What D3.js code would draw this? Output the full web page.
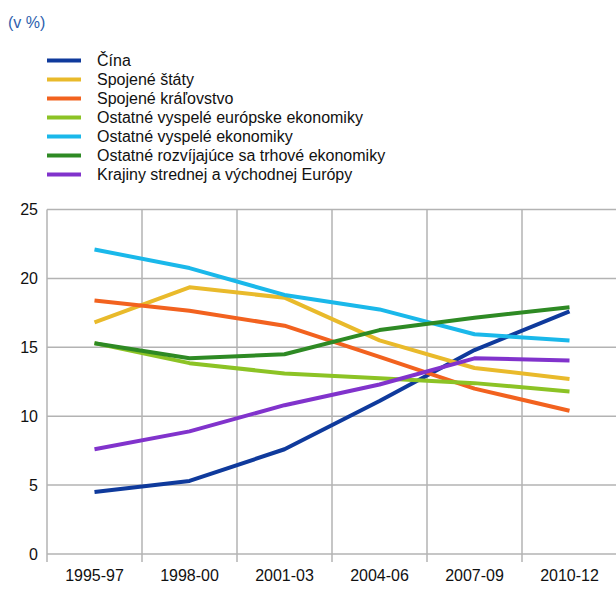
<!DOCTYPE html>
<html><head><meta charset="utf-8">
<script src="https://cdn.jsdelivr.net/npm/d3@7"></script>
<style>body{margin:0;background:#fff;}svg{display:block;font-family:"Liberation Sans",Arial,sans-serif;}</style>
</head><body>
<svg id="c" width="616" height="592"></svg>
<script>
const categories = ["1995-97","1998-00","2001-03","2004-06","2007-09","2010-12"];
const seriesNames = ["Čína","Spojené štáty","Spojené kráľovstvo","Ostatné vyspelé európske ekonomiky","Ostatné vyspelé ekonomiky","Ostatné rozvíjajúce sa trhové ekonomiky","Krajiny strednej a východnej Európy"];
const seriesColors = ["#0f3a9c","#e9ba2b","#f2621f","#8cc325","#1ab8ea","#2e8a24","#8133cc"];
const cina = [4.5, 5.3, 7.6, 11.1, 14.8, 17.6];
const usa = [16.8, 19.35, 18.6, 15.5, 13.5, 12.7];
const uk = [18.4, 17.65, 16.57, 14.3, 12.0, 10.4];
const europeAdv = [15.3, 13.85, 13.1, 12.75, 12.4, 11.8];
const otherAdv = [22.1, 20.75, 18.8, 17.75, 15.95, 15.5];
const emerging = [15.3, 14.2, 14.5, 16.25, 17.15, 17.9];
const cee = [7.6, 8.9, 10.8, 12.3, 14.2, 14.05];
const yTicks = [0, 5, 10, 15, 20, 25];
const unitLabel = "(v %)";

const series = [cina, usa, uk, europeAdv, otherAdv, emerging, cee];
const FONT = "Liberation Sans, Arial, sans-serif";
const svg = d3.select("#c");
const x = d3.scaleBand().domain(categories).range([47, 617]);
const y = d3.scaleLinear().domain([0, 25]).range([554, 209.5]);

svg.append("text").attr("x", 8).attr("y", 28).attr("fill", "#2e5fae").attr("font-size", 16).attr("font-family", FONT).text(unitLabel);

// gridlines
const grid = svg.append("g");
grid.selectAll("line.h").data(yTicks).join("line")
  .attr("x1", 47).attr("x2", 616).attr("y1", d => y(d)).attr("y2", d => y(d))
  .attr("stroke", "#b3b3b3").attr("stroke-width", 1.5);
const vx = categories.map(c => x(c)).concat([x.range()[1]]);
grid.selectAll("line.v").data(vx).join("line")
  .attr("x1", d => d).attr("x2", d => d).attr("y1", y(25)).attr("y2", y(0) + 8)
  .attr("stroke", "#b3b3b3").attr("stroke-width", 1.5);

// axes labels
const yAxis = d3.axisLeft(y).tickValues(yTicks).tickSize(0).tickPadding(9);
const ya = svg.append("g").attr("transform", "translate(47,0)").call(yAxis);
ya.select(".domain").remove();
ya.selectAll("text").attr("font-size", 16).attr("fill", "#111").attr("font-family", FONT);

const xAxis = d3.axisBottom(x).tickSize(0).tickPadding(16);
const xa = svg.append("g").attr("transform", `translate(0,${y(0)})`).call(xAxis);
xa.select(".domain").remove();
xa.selectAll("text").attr("font-size", 16).attr("fill", "#111").attr("font-family", FONT);

// lines
const line = d3.line().x((d, i) => x(categories[i]) + x.bandwidth() / 2).y(d => y(d));
svg.append("g").selectAll("path").data(series).join("path")
  .attr("d", line).attr("fill", "none")
  .attr("stroke", (d, i) => seriesColors[i]).attr("stroke-width", 4)
  .attr("stroke-linejoin", "round");

// legend
const lg = svg.append("g");
const items = lg.selectAll("g").data(seriesNames).join("g")
  .attr("transform", (d, i) => `translate(47,${60.5 + i * 19})`);
items.append("line").attr("x1", 0).attr("x2", 34).attr("stroke", (d, i) => seriesColors[i]).attr("stroke-width", 4);
items.append("text").attr("x", 50).attr("y", 5.5).attr("font-size", 16).attr("fill", "#111").attr("font-family", FONT).text(d => d);
</script>
</body></html>
